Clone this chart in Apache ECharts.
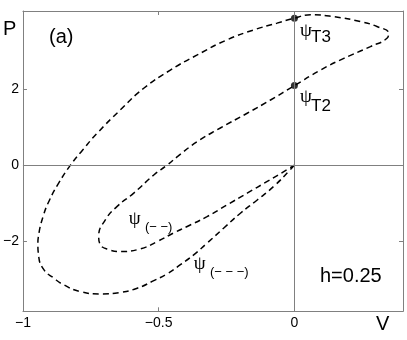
<!DOCTYPE html>
<html>
<head>
<meta charset="utf-8">
<script src="https://cdn.jsdelivr.net/npm/echarts@6/dist/echarts.min.js"></script>
<style>
  html, body { margin: 0; padding: 0; background: #fff; }
  #main { width: 407px; height: 340px; }
</style>
</head>
<body>
<div id="main"></div>
<script>
// trajectory in the (V, P) plane, traced in drawing order
const vData = [
  0, -0.015, -0.076, -0.137, -0.199, -0.26, -0.322, -0.371, -0.42, -0.469,
  -0.518, -0.579, -0.641, -0.715, -0.788, -0.85, -0.887, -0.923, -0.942, -0.945,
  -0.943, -0.926, -0.902, -0.868, -0.825, -0.78, -0.727, -0.641, -0.555, -0.457,
  -0.358, -0.248, -0.15, -0.064, 0, 0.059, 0.145, 0.243, 0.304, 0.347,
  0.341, 0.28, 0.182, 0.096, 0, -0.088, -0.174, -0.273, -0.358, -0.43,
  -0.469, -0.518, -0.592, -0.653, -0.696, -0.721, -0.715, -0.684, -0.641, -0.567,
  -0.506, -0.445, -0.395, -0.322, -0.248, -0.174, -0.1, -0.027, 0
];
const pData = [
  0, -0.12, -0.56, -0.92, -1.27, -1.66, -2.06, -2.37, -2.63, -2.87,
  -3.05, -3.25, -3.36, -3.4, -3.34, -3.16, -2.98, -2.76, -2.41, -2.06,
  -1.88, -1.36, -0.92, -0.47, 0, 0.4, 0.84, 1.46, 2.03, 2.51,
  2.91, 3.31, 3.57, 3.75, 3.88, 3.97, 3.92, 3.79, 3.66, 3.48,
  3.35, 3.13, 2.82, 2.51, 2.1, 1.72, 1.37, 0.98, 0.62, 0.23,
  0, -0.26, -0.74, -1.09, -1.44, -1.88, -2.1, -2.23, -2.28, -2.21,
  -2.02, -1.79, -1.62, -1.36, -1.05, -0.74, -0.43, -0.12, 0
];

// marked states psi_T3 and psi_T2
const dotV = [0, 0];
const dotP = [3.88, 2.1];

// axis ticks
const xTicks = [-1, -0.5, 0];
const yTicks = [-2, 0, 2];

// psi labels: glyph anchor and subscript anchor (data coords)
const psiV = [0.022, 0.022, -0.608, -0.369];
const psiP = [3.52, 1.79, -1.44, -2.63];
const subV = [0.063, 0.063, -0.549, -0.309];
const subP = [3.36, 1.55, -1.65, -2.84];
const subText = ['T3', 'T2', '(\u2212 \u2212)', '(\u2212 \u2212 \u2212)'];

const gray = '#808080';
const sans = 'Liberation Sans, Arial, sans-serif';
const minus = (v) => String(v).replace('-', '\u2212');

function xAxisDef(position, labels) {
  return {
    type: 'value',
    min: -1,
    max: 0.4,
    position: position,
    axisLine: { show: true, onZero: false, lineStyle: { color: gray, width: 1 } },
    axisTick: { show: true, inside: true, length: 4, customValues: xTicks, lineStyle: { color: gray } },
    axisLabel: {
      show: labels,
      customValues: xTicks,
      formatter: minus,
      margin: 5,
      color: '#000',
      fontSize: 14,
      fontFamily: sans,
    },
    splitLine: { show: false },
  };
}

function yAxisDef(position, labels) {
  return {
    type: 'value',
    min: -3.86,
    max: 4.07,
    position: position,
    axisLine: { show: true, onZero: false, lineStyle: { color: gray, width: 1 } },
    axisTick: { show: true, inside: true, length: 4, customValues: yTicks, lineStyle: { color: gray } },
    axisLabel: {
      show: labels,
      customValues: yTicks,
      formatter: minus,
      margin: 4,
      color: '#000',
      fontSize: 14,
      fontFamily: sans,
    },
    splitLine: { show: false },
  };
}

const curve = vData.map((v, i) => [v, pData[i]]);
const dots = dotV.map((v, i) => [v, dotP[i]]);
const psiMarks = psiV.map((v, i) => [v, psiP[i], '\u03C8']);
const subMarks = subV.map((v, i) => ({
  value: [v, subP[i], subText[i]],
  label: { fontSize: subText[i].charAt(0) === '(' ? 13 : 17 },
}));

const chart = echarts.init(document.getElementById('main'), null, { renderer: 'canvas' });

chart.setOption({
  animation: false,
  backgroundColor: '#fff',
  grid: { left: 22.5, right: 4, top: 11, bottom: 28.7, containLabel: false },
  xAxis: [xAxisDef('bottom', true), xAxisDef('top', false)],
  yAxis: [yAxisDef('left', true), yAxisDef('right', false)],
  graphic: [
    { type: 'text', left: 3, top: 19, style: { text: 'P', font: '20px ' + sans, fill: '#000' } },
    { type: 'text', left: 376, top: 314, style: { text: 'V', font: '20px ' + sans, fill: '#000' } },
    { type: 'text', left: 49, top: 27, style: { text: '(a)', font: '20px ' + sans, fill: '#000' } },
    { type: 'text', left: 320, top: 266, style: { text: 'h=0.25', font: '20px ' + sans, fill: '#000' } },
  ],
  series: [
    {
      type: 'line',
      data: curve,
      smooth: 0.5,
      showSymbol: false,
      symbol: 'none',
      silent: true,
      lineStyle: { color: '#000', width: 1.5, type: [6, 4] },
      markLine: {
        silent: true,
        symbol: ['none', 'none'],
        label: { show: false },
        lineStyle: { color: gray, width: 1, type: 'solid' },
        data: [{ xAxis: 0 }, { yAxis: 0 }],
      },
      z: 3,
    },
    {
      type: 'scatter',
      data: dots,
      symbol: 'circle',
      symbolSize: 7,
      itemStyle: { color: '#000' },
      silent: true,
      z: 4,
    },
    {
      type: 'scatter',
      data: psiMarks,
      symbolSize: 1,
      itemStyle: { color: 'rgba(0,0,0,0)' },
      silent: true,
      label: {
        show: true,
        position: [0, 0],
        align: 'left',
        verticalAlign: 'middle',
        formatter: (p) => p.value[2],
        color: '#000',
        opacity: 1,
        textBorderWidth: 0,
        fontSize: 19,
        fontFamily: 'Liberation Serif, serif',
      },
    },
    {
      type: 'scatter',
      data: subMarks,
      symbolSize: 1,
      itemStyle: { color: 'rgba(0,0,0,0)' },
      silent: true,
      label: {
        show: true,
        position: [0, 0],
        align: 'left',
        verticalAlign: 'middle',
        formatter: (p) => p.value[2],
        color: '#000',
        opacity: 1,
        textBorderWidth: 0,
        fontFamily: sans,
      },
    },
  ],
});
</script>
</body>
</html>
